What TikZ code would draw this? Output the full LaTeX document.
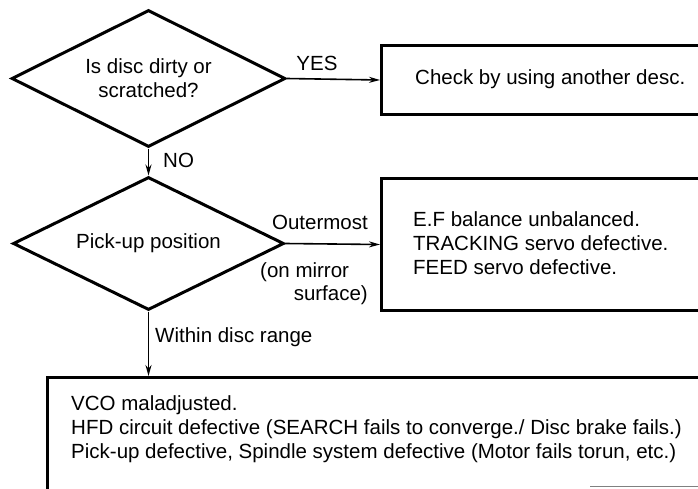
\documentclass[tikz,border=0pt]{standalone}
\usepackage{fontspec}
\setmainfont{Liberation Sans}
\usetikzlibrary{shapes.geometric,arrows.meta}
\newcommand\diagfont{\fontsize{20.5}{24}\selectfont}
\begin{document}
\begin{tikzpicture}[x=1pt,y=-1pt,
  shp/.style={draw, line width=3pt},
  dec/.style={shp, diamond, aspect=2, inner sep=0pt, align=center, font=\diagfont},
  boxx/.style={shp, rectangle, anchor=north west, inner sep=0pt},
  lbl/.style={font=\diagfont, inner sep=0pt},
  conn/.style={line width=1.6pt, -{Stealth[length=11pt,width=6pt]}},
]
\useasboundingbox (0,0) rectangle (698,488);

% decisions
\node[dec, minimum width=274pt, minimum height=137pt] (d1) at (148.5,78.5) {Is disc dirty or\\scratched?};
\node[dec, minimum width=271pt, minimum height=133pt] (d2) at (148.5,243.5) {Pick-up position};

% boxes (running off the right edge)
\node[boxx, minimum width=340pt, minimum height=69pt] (b1) at (380,44) {};
\node[boxx, minimum width=340pt, minimum height=132pt] (b2) at (380,177) {};
\node[boxx, minimum width=700pt, minimum height=140pt] (b3) at (46,376) {};
\draw[gray, line width=1.4pt] (590,486.5) -- (698,486.5);

% box texts
\node[lbl, anchor=west] (t1) at (415,79) {Check by using another desc.};
\node[lbl, anchor=west, align=left] (t2) at (413,243) {E.F balance unbalanced.\\TRACKING servo defective.\\FEED servo defective.};
\node[lbl, anchor=west, align=left] (t3) at (71,429) {VCO maladjusted.\\HFD circuit defective (SEARCH fails to converge./ Disc brake fails.)\\Pick-up defective, Spindle system defective (Motor fails torun, etc.)};

% connectors
\draw[conn] (d1.east) -- (b1.west);
\draw[conn] (d1.south) -- (d2.north);
\draw[conn] (d2.east) -- (b2.west);
\draw[conn] (d2.south) -- (d2.south |- b3.north);

% connector labels
\node[lbl] (yes) at (317,63) {YES};
\node[lbl, anchor=west] (no) at (163,160) {NO};
\node[lbl, anchor=east] (outer) at (368,222) {Outermost};
\node[lbl, anchor=west] (mirror) at (260,272) {(on mirror};
\node[lbl, anchor=east] (surf) at (368,295) {surface)};
\node[lbl, anchor=west] (within) at (155,337) {Within disc range};
\end{tikzpicture}
\end{document}
